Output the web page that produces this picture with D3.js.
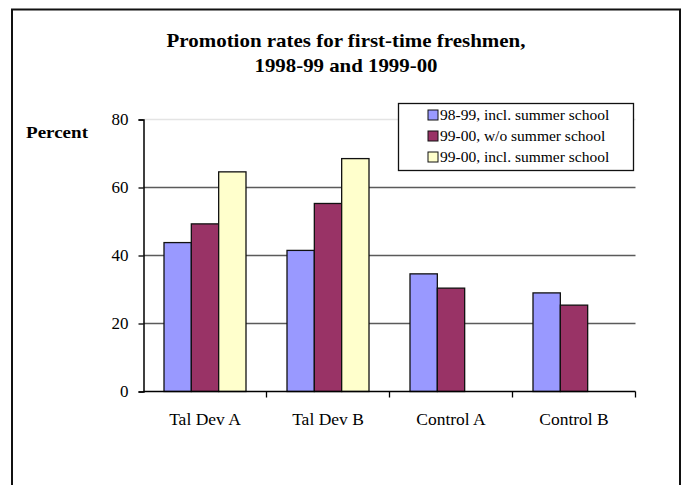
<!DOCTYPE html>
<html>
<head>
<meta charset="utf-8">
<script src="https://cdn.jsdelivr.net/npm/d3@7"></script>
<style>
  body { margin: 0; background: #fff; }
  text { font-family: "Liberation Serif", "Times New Roman", serif; fill: #000; }
</style>
</head>
<body>
<div id="chart"></div>
<script>
const Categories = ["Tal Dev A", "Tal Dev B", "Control A", "Control B"];
const SeriesNames = ["98-99, incl. summer school", "99-00, w/o summer school", "99-00, incl. summer school"];
const SeriesColors = ["#9999FF", "#993366", "#FFFFCC"];

// null = no bar
const Values9899Incl = [43.8, 41.5, 34.6, 29.0];
const Values9900Without = [49.3, 55.3, 30.4, 25.4];
const Values9900Incl = [64.6, 68.5, null, null];

const YTicks = [0, 20, 40, 60, 80];
const TitleLines = ["Promotion rates for first-time freshmen,", "1998-99 and 1999-00"];

function createChart() {
    const width = 683;
    const height = 485;
    const plot = { left: 143.5, right: 635.5, top: 119.5, bottom: 391.5 };

    const seriesValues = [Values9899Incl, Values9900Without, Values9900Incl];

    const svg = d3.select("#chart").append("svg")
        .attr("width", width)
        .attr("height", height);

    // outer frame (bottom runs off the page)
    svg.append("rect")
        .attr("x", 12).attr("y", 9.5)
        .attr("width", 668).attr("height", 500)
        .attr("fill", "#fff")
        .attr("stroke", "#111")
        .attr("stroke-width", 2);

    // title is wider in the original, so stretch it a bit
    const titleWidths = [359, 183];
    svg.append("g")
        .selectAll("text")
        .data(TitleLines)
        .enter().append("text")
            .attr("x", 346)
            .attr("y", (d, i) => 47 + i * 25)
            .attr("text-anchor", "middle")
            .attr("font-size", 19.5)
            .attr("font-weight", "bold")
            .attr("textLength", (d, i) => titleWidths[i])
            .attr("lengthAdjust", "spacingAndGlyphs")
            .text(d => d);

    const x0 = d3.scaleBand()
        .domain(Categories)
        .range([plot.left, plot.right])
        .padding(0);

    const x1 = d3.scaleBand()
        .domain(d3.range(SeriesNames.length))
        .range([0, x0.bandwidth()])
        .paddingInner(0)
        .paddingOuter(0.75);

    const y = d3.scaleLinear()
        .domain([0, 80])
        .range([plot.bottom, plot.top]);

    // gridlines
    svg.append("g")
        .selectAll("line")
        .data(YTicks.filter(t => t > 0))
        .enter().append("line")
            .attr("x1", plot.left)
            .attr("x2", plot.right)
            .attr("y1", d => y(d))
            .attr("y2", d => y(d))
            .attr("stroke", d => d === 80 ? "#e4e4e4" : "#5a5a5a")
            .attr("stroke-width", 1.3);

    // bars
    const groups = svg.append("g")
        .selectAll("g")
        .data(Categories)
        .enter().append("g")
            .attr("transform", d => `translate(${x0(d)},0)`);

    groups.selectAll("rect")
        .data((d, ci) => seriesValues.map((vals, si) => ({ si: si, v: vals[ci] })).filter(o => o.v != null))
        .enter().append("rect")
            .attr("x", d => x1(d.si))
            .attr("y", d => y(d.v))
            .attr("width", x1.bandwidth())
            .attr("height", d => y(0) - y(d.v))
            .attr("fill", d => SeriesColors[d.si])
            .attr("stroke", "#111")
            .attr("stroke-width", 1.3);

    // y axis
    const yAxis = svg.append("g")
        .attr("transform", `translate(${plot.left},0)`)
        .call(d3.axisLeft(y).tickValues(YTicks).tickSize(5).tickPadding(10));
    yAxis.select(".domain").attr("stroke", "#000").attr("stroke-width", 1.5);
    yAxis.selectAll(".tick line").attr("stroke", "#000").attr("stroke-width", 1.3);
    yAxis.selectAll(".tick text")
        .attr("font-family", "Liberation Serif, serif")
        .attr("font-size", 17);

    // x axis with ticks between categories
    svg.append("line")
        .attr("x1", plot.left).attr("x2", plot.right)
        .attr("y1", plot.bottom).attr("y2", plot.bottom)
        .attr("stroke", "#000").attr("stroke-width", 1.5);

    svg.append("g")
        .selectAll("line")
        .data(Categories)
        .enter().append("line")
            .attr("x1", d => x0(d) + x0.bandwidth())
            .attr("x2", d => x0(d) + x0.bandwidth())
            .attr("y1", plot.bottom)
            .attr("y2", plot.bottom + 6)
            .attr("stroke", "#000")
            .attr("stroke-width", 1.3);

    svg.append("g")
        .selectAll("text")
        .data(Categories)
        .enter().append("text")
            .attr("x", d => x0(d) + x0.bandwidth() / 2)
            .attr("y", 425)
            .attr("text-anchor", "middle")
            .attr("font-size", 17.5)
            .text(d => d);

    // y axis title
    svg.append("text")
        .attr("x", 26)
        .attr("y", 137.5)
        .attr("font-size", 16)
        .attr("font-weight", "bold")
        .attr("textLength", 62)
        .attr("lengthAdjust", "spacingAndGlyphs")
        .text("Percent");

    // legend
    const legend = svg.append("g").attr("class", "legend");
    legend.append("rect")
        .attr("x", 398.5).attr("y", 103.5)
        .attr("width", 235).attr("height", 67)
        .attr("fill", "#fff")
        .attr("stroke", "#111")
        .attr("stroke-width", 1.3);

    const items = legend.selectAll(".legend-item")
        .data(SeriesNames)
        .enter().append("g")
            .attr("class", "legend-item")
            .attr("transform", (d, i) => `translate(428,${115 + i * 21})`);

    items.append("rect")
        .attr("x", 0).attr("y", -5)
        .attr("width", 10).attr("height", 10)
        .attr("fill", (d, i) => SeriesColors[i])
        .attr("stroke", "#111")
        .attr("stroke-width", 1);

    items.append("text")
        .attr("x", 12)
        .attr("y", 5)
        .attr("font-size", 15.5)
        .text(d => d);
}

createChart();
</script>
</body>
</html>
